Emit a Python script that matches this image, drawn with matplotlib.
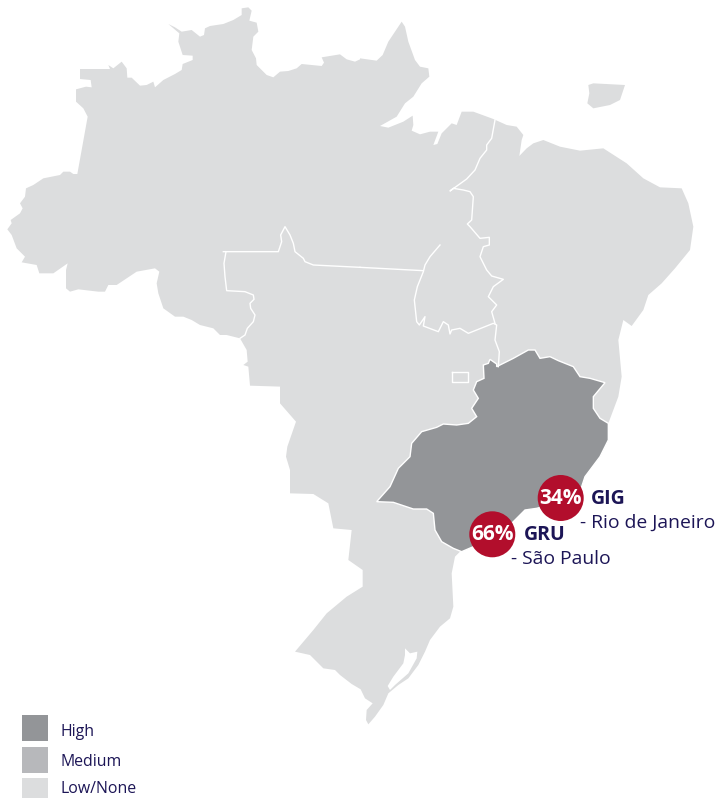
import matplotlib
matplotlib.use("Agg")
import matplotlib.pyplot as plt
from matplotlib.patches import Polygon, Circle, Rectangle

north_west = [(22,688),(35,670),(32,660),(60,640),(68,625),(60,610),(75,590),(78,565),(100,555),(130,535),(180,525),(190,515),(210,515),(220,522),(232,522),(263,350),(250,325),(228,305),(228,268),(258,260),(275,262),(272,240),(240,237),(240,207),(330,207),(325,195),(340,205),(365,185),(380,205),(382,233),(395,233),(420,257),(440,255),(460,245),(465,262),(490,240),(525,222),(545,210),(548,192),(578,180),(578,167),(548,165),(535,125),(538,100),(505,72),(525,82),(545,95),(575,90),(600,110),(612,105),(615,85),(630,78),(670,72),(700,60),(725,45),(725,25),(745,22),(755,32),(748,62),(770,68),(775,95),(760,110),(755,150),(768,175),(770,195),(800,225),(820,232),(840,215),(865,213),(890,205),(905,192),(965,198),(972,188),(965,172),(1020,163),(1040,178),(1065,185),(1080,178)]
north_east = [(0,175),(50,182),(68,165),(85,125),(125,65),(135,80),(145,125),(165,180),(180,200),(205,205),(208,230),(185,250),(160,290),(135,310),(110,350),(60,378),(85,383),(130,365),(158,347),(160,375),(155,392),(180,403),(210,395),(235,395),(220,435),(232,432),(245,400),(275,370),(290,375),(305,335),(340,335),(400,357),(440,375),(470,380),(490,405),(485,420),(478,468),(500,445),(520,430),(550,420),(600,440),(660,452),(730,445),(800,490),(850,535),(900,562),(965,565),(985,610),(1000,680),(990,750),(945,805),(905,850),(865,885),(850,930),(815,978),(790,960),(775,1020),(785,1130),(775,1195)]
south_coast = [(1025,110),(1015,170),(985,250),(985,300),(960,350),(915,410),(905,440),(860,480),(770,505),(735,510),(700,545),(650,590),(540,635),(525,650),(515,700),(520,800),(510,835),(480,860),(450,900),(435,935),(415,975),(385,1015),(355,1035),(325,1060),(310,1095),(285,1130),(265,1153),(258,1140),(260,1110),(278,1090),(255,1075),(242,1048),(215,1032),(180,1005),(165,990),(130,985),(90,945),(45,935),(100,870),(140,820),(200,770),(248,740),(248,690),(205,660),(215,570),(160,565),(145,490),(100,462),(30,460),(30,390),(18,350),(22,320),(48,245),(0,190),(0,140)]
west_return = [(845,1160),(750,1157),(745,1100),(730,1095),(743,1085),(740,1050),(720,1015),(680,1005),(660,1005),(640,985),(600,975),(575,960),(550,950),(525,950),(490,925),(475,880),(470,850),(478,815),(465,805),(410,815),(380,835),(350,855),(325,855),(315,875),(295,875),(235,868),(210,875),(198,865),(198,810),(203,790),(160,820),(118,820),(110,795),(65,787),(75,770),(50,745),(35,705)]
high_region = [(290,485),(330,440),(355,385),(390,350),(395,310),(425,275),(470,262),(490,252),(530,255),(565,250),(590,230),(575,205),(595,175),(580,150),(590,125),(612,115),(610,75),(625,70),(630,58),(650,72),(650,80),(700,55),(745,30),(765,30),(780,55),(810,50),(835,62),(880,80),(900,110),(930,115),(975,128),(940,170),(940,205),(960,235),(985,250),(985,300),(960,350),(915,410),(905,440),(860,480),(770,505),(735,510),(700,545),(650,590),(545,635),(520,625),(485,605),(465,570),(460,520),(440,507),(400,507),(340,487)]
island = [(685,255),(700,250),(795,255),(780,300),(750,315),(700,325),(682,310),(688,280)]
lagoon = [(375,925),(390,940),(412,935),(410,955),(385,1000),(345,1035),(330,1050),(323,1038),(340,1010),(370,970),(375,945)]

border_west = [(670,755),(835,755),(845,725),(842,705),(855,680),(870,705),(880,730),(885,755),(910,775),(915,785),(940,795),(1080,802)]
border_rondonia = [(678,755),(672,790),(675,830),(680,872),(735,875),(760,885),(762,898),(750,910),(752,925),(765,945),(760,965),(742,985),(735,1005),(720,1015)]
border_mid = [(0,802),(190,812)]
border_tocantins = [(240,735),(210,770),(195,795),(190,815),(172,860),(163,900),(170,965),(178,975),(195,950),(190,978),(235,995),(250,965),(265,975),(270,1002),(275,990),(300,985),(325,1000),(370,982),(400,970),(410,975),(405,1020),(418,1055),(415,1100)]
border_east = [(405,970),(395,935),(410,915),(385,890),(400,860),(430,838),(395,828),(380,810),(360,770),(370,740),(388,735),(388,712),(360,715),(330,680),(322,672),(335,660),(340,590),(330,575),(310,570),(280,565),(270,573),(320,537),(345,510),(360,475),(380,450),(380,435),(395,415),(405,360)]
district = [(275,1115),(325,1115),(325,1145),(275,1145),(275,1115)]

airports = ["GIG", "GRU"]
cities = ["- Rio de Janeiro", "- São Paulo"]
shares = ["34%", "66%"]
legend_labels = ["High", "Medium", "Low/None"]
legend_colors = ["#939598", "#b7b8bb", "#dcddde"]

NAVY = "#1c1556"
RED = "#b20e2c"
FONT = "Open Sans"


def crop(points, x0, y0):
    return [(x0 + x / 3, y0 + y / 3) for x, y in points]


fig = plt.figure(figsize=(7.16, 7.98), dpi=100)
ax = fig.add_axes([0, 0, 1, 1])
ax.set_xlim(0, 716)
ax.set_ylim(798, 0)
ax.axis("off")

outline = crop(north_west, 0, 0) + crop(north_east, 360, 0) + crop(south_coast, 280, 340) + crop(west_return, 0, 0)
ax.add_patch(Polygon(outline, fc=legend_colors[2], ec="none"))
ax.add_patch(Polygon(crop(island, 360, 0), fc=legend_colors[2], ec="none"))
ax.add_patch(Polygon(crop(lagoon, 280, 340), fc="white", ec="none"))
ax.add_patch(Polygon(crop(high_region, 280, 340), fc=legend_colors[0], ec="white", lw=1))

for line, x0 in [(border_west, 0), (border_rondonia, 0), (border_mid, 360), (border_tocantins, 360), (border_east, 360), (district, 360)]:
    pts = crop(line, x0, 0)
    ax.plot([p[0] for p in pts], [p[1] for p in pts], color="white", lw=1)

# bubbles and their labels
bubble_xy = [(560.7, 498), (492.3, 534.3)]
code_xy = [(591, 499), (524, 535)]
city_xy = [(580, 523), (511, 559)]
for i in range(2):
    ax.add_patch(Circle(bubble_xy[i], 23, fc=RED, ec="none", zorder=3))
    ax.text(bubble_xy[i][0], bubble_xy[i][1], shares[i], color="white", fontsize=15, fontweight="bold",
            family=FONT, ha="center", va="center", zorder=4)
    ax.text(code_xy[i][0], code_xy[i][1], airports[i], color=NAVY, fontsize=14, fontweight="bold",
            family=FONT, ha="left", va="center")
    ax.text(city_xy[i][0], city_xy[i][1], cities[i], color=NAVY, fontsize=13.9,
            family=FONT, ha="left", va="center")

# legend, the last swatch runs off the bottom edge
legend_y = [715, 747, 778]
legend_text_y = [732, 762, 789]
for i in range(3):
    ax.add_patch(Rectangle((22, legend_y[i]), 26, 26, fc=legend_colors[i], ec="none"))
    ax.text(61, legend_text_y[i], legend_labels[i], color=NAVY, fontsize=11.4, family=FONT, ha="left", va="center")

fig.savefig("out.png", dpi=100)
